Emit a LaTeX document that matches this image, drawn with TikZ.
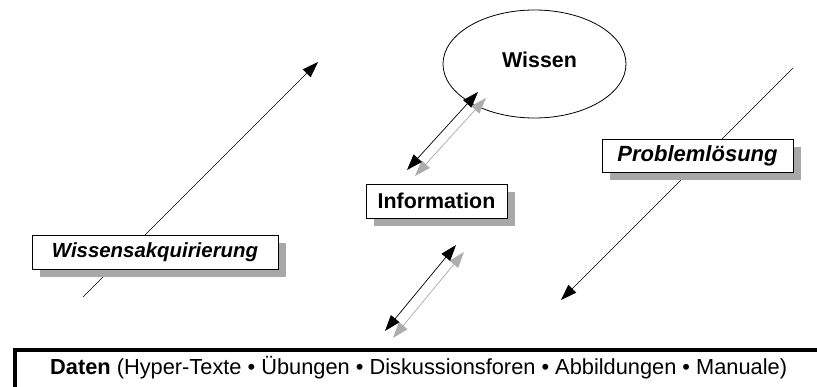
\documentclass[tikz,border=0pt]{standalone}
\usepackage{fontspec}
\setmainfont{Liberation Sans}
\usetikzlibrary{arrows.meta,shadows,shapes.geometric}
\definecolor{boxshade}{gray}{0.66}
\definecolor{arrshade}{gray}{0.68}
\tikzset{
  lbl/.style={draw=black, line width=0.8pt, fill=white, inner sep=0pt,
    minimum height=34pt,
    drop shadow={shadow xshift=8pt, shadow yshift=-8pt, fill=boxshade, opacity=1}},
  conn/.style={line width=0.7pt, -{Triangle[length=16pt,width=11pt]}},
  dbl/.style={line width=0.7pt, {Triangle[length=16pt,width=11pt]}-{Triangle[length=16pt,width=11pt]}},
  shadedbl/.style={dbl, draw=arrshade, fill=arrshade},
  ital/.style={font=\fontsize{20.4pt}{24pt}\selectfont\bfseries\itshape},
  italbig/.style={font=\fontsize{22pt}{24pt}\selectfont\bfseries\itshape},
  bld/.style={font=\fontsize{21.4pt}{24pt}\selectfont\bfseries},
}
\begin{document}
\begin{tikzpicture}[x=1pt,y=-1pt]
\useasboundingbox (0,0) rectangle (817,387);

% coordinates
\coordinate (wa1) at (83,297);
\coordinate (wa2) at (318,62);
\coordinate (pa1) at (793,68);
\coordinate (pa2) at (561,300);
\coordinate (u1) at (407,170);
\coordinate (u2) at (478,92);
\coordinate (u1s) at (415,176);
\coordinate (u2s) at (486,98);
\coordinate (l1) at (385,331);
\coordinate (l2) at (456,245);
\coordinate (l1s) at (393,338);
\coordinate (l2s) at (464,252);

% long arrows (behind boxes)
\draw[conn] (wa1) -- (wa2);
\draw[conn] (pa1) -- (pa2);

% Wissen
\node[ellipse, draw, line width=0.8pt, minimum width=183pt, minimum height=108pt] (wissen) at (534.5,64) {};
\node[bld, anchor=base west, inner sep=0pt] (wtext) at (502,68) {Wissen};

% double arrows
\draw[shadedbl] (u1s) -- (u2s);
\draw[dbl] (u1) -- (u2);
\draw[shadedbl] (l1s) -- (l2s);
\draw[dbl] (l1) -- (l2);

% label boxes
\node[lbl, ital, minimum width=246pt] (wiss) at (155,252) {Wissensakquirierung};
\node[lbl, bld, minimum width=141pt] (info) at (436.5,201) {Information};
\node[lbl, italbig, minimum width=191pt, minimum height=33pt] (prob) at (697.5,155.5) {Problemlösung};

% Daten bar
\draw[line width=4pt] (13,350) -- (817,350);
\draw[line width=4pt] (14.7,348) -- (14.7,387);
\node[anchor=base west, inner sep=0pt, font=\fontsize{21.8pt}{24pt}\selectfont] (daten) at (50,375)
  {\textbf{Daten} (Hyper-Texte • Übungen • Diskussionsforen • Abbildungen • Manuale)};
\end{tikzpicture}
\end{document}
